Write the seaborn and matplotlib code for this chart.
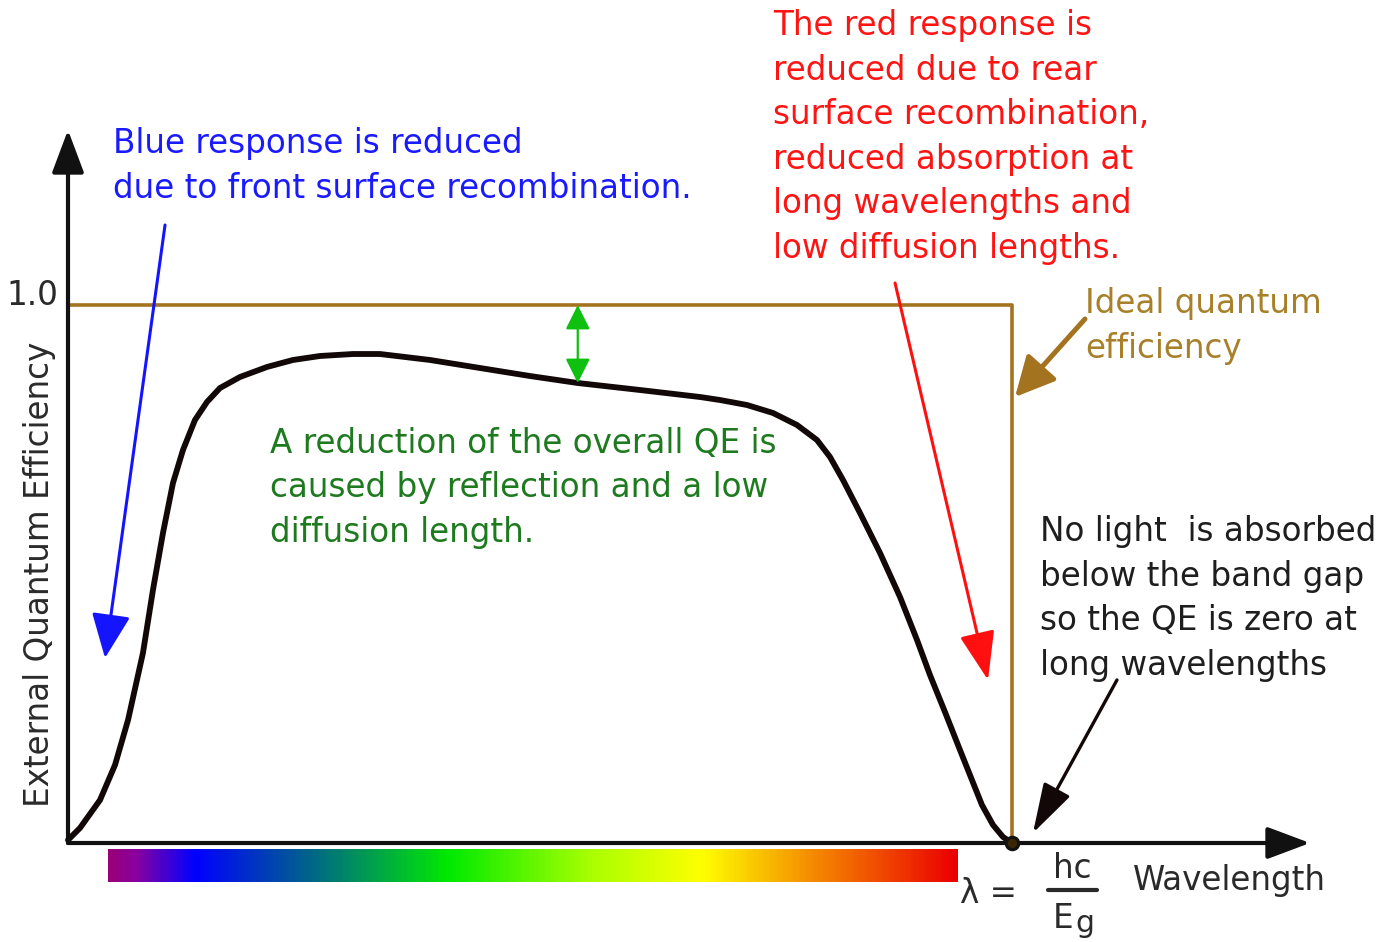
"""
External quantum efficiency of a solar cell vs. wavelength, with the usual
annotations (blue / red losses, ideal QE, band-gap cutoff).
"""
import matplotlib

matplotlib.use("Agg")
import matplotlib.pyplot as plt
import numpy as np
import seaborn as sns
from matplotlib.colors import LinearSegmentedColormap

# wavelength normalised to the band-gap wavelength (lambda / lambda_g)
wavelength = [0.0, 0.0127, 0.0339, 0.0498, 0.0636, 0.0794, 0.09, 0.1006, 0.1112,
              0.1218, 0.1345, 0.1472, 0.161, 0.1822, 0.2108, 0.2383, 0.2669,
              0.3019, 0.3305, 0.3835, 0.4364, 0.4894, 0.54, 0.6059, 0.6695,
              0.6907, 0.7193, 0.7468, 0.7722, 0.7934, 0.8072, 0.821, 0.839,
              0.8602, 0.8814, 0.8994, 0.9131, 0.929, 0.9449, 0.9576, 0.9682,
              0.9799, 0.9905, 1.0]
qe = [0.0056, 0.0279, 0.0799, 0.145, 0.2286, 0.3532, 0.4703, 0.5762, 0.6691,
      0.7305, 0.7862, 0.8197, 0.8457, 0.8662, 0.8848, 0.8978, 0.9052, 0.9089,
      0.9089, 0.8978, 0.8829, 0.868, 0.855, 0.842, 0.829, 0.8234, 0.8141,
      0.7993, 0.777, 0.7491, 0.7175, 0.6747, 0.6134, 0.539, 0.4572, 0.3773,
      0.3123, 0.2435, 0.1729, 0.1171, 0.0706, 0.0335, 0.0112, 0.0]

ideal_wavelength = [0.0, 1.0, 1.0]
ideal_qe = [1.0, 1.0, 0.0]

# visible spectrum strip under the axis
spectrum_pos = [0.0, 0.03, 0.10, 0.235, 0.40, 0.57, 0.70, 0.83, 1.0]
spectrum_colors = ["#9a0078", "#8a00a0", "#0000ff", "#00648a", "#00ea00",
                   "#aaff00", "#ffff00", "#f58c00", "#eb0000"]

BLACK = "#111111"
BROWN = "#a3731f"
GREY = "#2a2a2a"
FONT = 23.5
LS = 1.445

sns.set_theme(style="white")
plt.rcParams["font.family"] = ["DejaVu Sans"]

fig = plt.figure(figsize=(13.87, 9.42), dpi=100)
ax = fig.add_axes([0, 0, 1, 1])
ax.set_axis_off()

# ideal QE box and measured curve
sns.lineplot(x=ideal_wavelength, y=ideal_qe, sort=False, estimator=None,
             color=BROWN, lw=2.6, ax=ax)
sns.lineplot(x=wavelength, y=qe, sort=False, estimator=None, color="#120808",
             lw=4.2, solid_joinstyle="round", solid_capstyle="round", ax=ax)

# axes with arrow heads
axis_head = dict(arrowstyle="-|>,head_length=1.2,head_width=0.45",
                 mutation_scale=22, lw=3, color=BLACK, shrinkA=0, shrinkB=0)
ax.annotate("", xy=(0, 1.3253), xytext=(0, 0), arrowprops=axis_head)
ax.annotate("", xy=(1.3157, 0), xytext=(0, 0), arrowprops=axis_head)

sns.scatterplot(x=[ideal_wavelength[-1]], y=[ideal_qe[-1]], s=80,
                color="#3a2600", edgecolor=BLACK, linewidth=2.2, zorder=5, ax=ax)

# spectrum strip
cmap = LinearSegmentedColormap.from_list("spec", list(zip(spectrum_pos, spectrum_colors)))
ax.imshow(np.linspace(0, 1, 400)[None, :], cmap=cmap, aspect="auto",
          extent=[0.0424, 0.9428, -0.0725, -0.0112], interpolation="bilinear")

ax.set_xlim(-68 / 944, 1319 / 944)
ax.set_ylim(-99 / 538, 843 / 538)

# labels
ax.text(-0.0297, 0.5, "External Quantum Efficiency", rotation=90, ha="center",
        va="center", fontsize=FONT, color=GREY)
ax.text(-0.0106, 1.0, "1.0", ha="right", va="baseline", fontsize=FONT, color=GREY)
ax.text(1.1282, -0.0874, "Wavelength", ha="left", va="baseline", fontsize=FONT,
        color=GREY)
ax.text(0.9449, -0.1115, "λ =", ha="left", va="baseline", fontsize=FONT, color=GREY)
ax.text(1.0636, -0.0651, "hc", ha="center", va="baseline", fontsize=FONT, color=GREY)
ax.plot([1.0381, 1.09], [-0.0874, -0.0874], color=GREY, lw=3)
ax.text(1.0434, -0.158, "E", ha="left", va="baseline", fontsize=FONT, color=GREY)
ax.text(1.0667, -0.1654, "g", ha="left", va="baseline", fontsize=FONT - 2, color=GREY)

# annotations: text (last-line baseline), colour, arrow start, arrow tip, style
notes = [
    ("Blue response is reduced\ndue to front surface recombination.",
     (0.0477, 1.1989), "#1a1aff", (0.1028, 1.1487), (0.0392, 0.3439), 2.2, 1.25, 0.55),
    ("The red response is\nreduced due to rear\nsurface recombination,\n"
     "reduced absorption at\nlong wavelengths and\nlow diffusion lengths.",
     (0.7468, 1.0874), "#ff1414", (0.8761, 1.0409), (0.9746, 0.303), 2.2, 1.37, 0.5),
    ("Ideal quantum\nefficiency",
     (1.0773, 0.9015), "#a8802a", (1.0773, 0.974), (1.0032, 0.829), 3.6, 1.1, 0.55),
    ("No light  is absorbed\nbelow the band gap\nso the QE is zero at\nlong wavelengths",
     (1.0297, 0.3123), "#1e1e1e", (1.1112, 0.303), (1.0222, 0.0186), 2.4, 1.4, 0.42),
]
arrow_colors = ["#1414ff", "#ff1010", BROWN, "#120808"]
for (txt, pos, col, start, tip, lw, hl, hw), acol in zip(notes, arrow_colors):
    ax.text(pos[0], pos[1], txt, ha="left", va="baseline", fontsize=FONT,
            color=col, linespacing=LS)
    ax.annotate("", xy=tip, xytext=start,
                arrowprops=dict(arrowstyle=f"-|>,head_length={hl},head_width={hw}",
                                mutation_scale=22, lw=lw, color=acol,
                                shrinkA=0, shrinkB=0))

ax.text(0.214, 0.5595,
        "A reduction of the overall QE is\ncaused by reflection and a low\n"
        "diffusion length.",
        ha="left", va="baseline", fontsize=FONT, color="#1e7a1e", linespacing=LS)

# reflection / diffusion loss: ideal (1.0) down to the curve
i = wavelength.index(0.54)
ax.annotate("", xy=(wavelength[i], qe[i]), xytext=(wavelength[i], 1.0),
            arrowprops=dict(arrowstyle="<|-|>,head_length=1.0,head_width=0.5",
                            mutation_scale=15, lw=1.6, color="#10c010",
                            shrinkA=0, shrinkB=0))

fig.savefig("out.png", dpi=100)
